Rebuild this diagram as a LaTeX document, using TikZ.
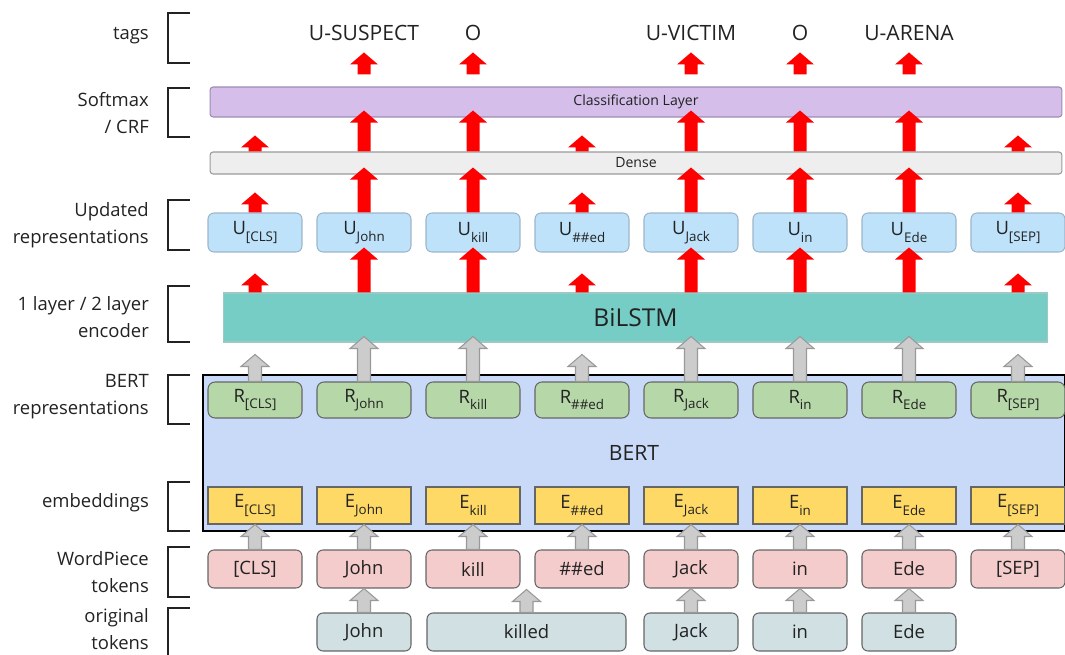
\documentclass[tikz,border=0pt]{standalone}
\usepackage{fontspec}
\setmainfont{Open Sans}
\usetikzlibrary{calc}

\definecolor{txt}{HTML}{222222}
\definecolor{ufill}{HTML}{BDE2FA}
\definecolor{uline}{HTML}{9DB5C9}
\definecolor{clsfill}{HTML}{D5BFEA}
\definecolor{clsline}{HTML}{9C8BB2}
\definecolor{dnsfill}{HTML}{EEEEEE}
\definecolor{dnsline}{HTML}{9A9A9A}
\definecolor{bilfill}{HTML}{76CDC5}
\definecolor{billine}{HTML}{9CC9C4}
\definecolor{bertfill}{HTML}{C9DAF8}
\definecolor{rfill}{HTML}{B6D7A8}
\definecolor{efill}{HTML}{FFD966}
\definecolor{wfill}{HTML}{F4CCCC}
\definecolor{ofill}{HTML}{D0E0E3}
\definecolor{boxline}{HTML}{666666}
\definecolor{arrred}{HTML}{FF0000}
\definecolor{arrgray}{HTML}{CCCCCC}
\definecolor{arrline}{HTML}{999999}

\newcommand\tk[2]{#1\raisebox{-0.65ex}{\fontsize{7.6}{8}\selectfont #2}}

\begin{document}
\begin{tikzpicture}[
  x=0.02cm, y=-0.02cm,
  font=\fontsize{10.5}{15.4}\selectfont, text=txt,
  box/.style={draw, line width=0.6pt, minimum width=1.88cm, inner sep=0pt, align=center},
  ub/.style={box, draw=uline, fill=ufill, rounded corners=0.12cm, minimum height=0.78cm},
  rb/.style={box, draw=boxline, fill=rfill, rounded corners=0.14cm, minimum height=0.72cm},
  eb/.style={box, draw=boxline, fill=efill, minimum height=0.74cm},
  wb/.style={box, draw=boxline, fill=wfill, rounded corners=0.12cm, minimum height=0.76cm},
  ob/.style={box, draw=boxline, fill=ofill, rounded corners=0.12cm, minimum height=0.76cm},
  lyr/.style={draw, line width=0.6pt, inner sep=0pt},
  tag/.style={font=\fontsize{12}{14}\selectfont},
  lab/.style={anchor=east, align=right},
  brk/.style={draw=txt, line width=1.1pt},
  blk/.style={to path={let \p1=(\tikztostart), \p2=(\tikztotarget) in
    (\x1-0.13cm,\y1) -- (\x1-0.13cm,\y2+#1-0.24cm) -- (\x1-0.28cm,\y2+#1-0.24cm) -- (\x1,\y2+#1)
    -- (\x1+0.28cm,\y2+#1-0.24cm) -- (\x1+0.13cm,\y2+#1-0.24cm) -- (\x1+0.13cm,\y1) -- cycle}},
  blk/.default=0cm,
  ra/.style={blk=#1, fill=arrred, draw=none},
  ra/.default=0cm,
  ga/.style={blk=#1, fill=arrgray, draw=arrline, line width=0.6pt},
  ga/.default=0cm
]
\useasboundingbox (0,0) rectangle (1065,655);

% layers
\node[lyr, draw=clsline, fill=clsfill, rounded corners=0.06cm, minimum width=17.04cm, minimum height=0.6cm,
  font=\fontsize{8}{9}\selectfont] (cls) at (636,102) {Classification Layer};
\node[lyr, draw=dnsline, fill=dnsfill, rounded corners=0.06cm, minimum width=17.04cm, minimum height=0.44cm,
  font=\fontsize{8}{9}\selectfont] (dense) at (636,163) {Dense};
\node[lyr, draw=billine, fill=bilfill, minimum width=16.5cm, minimum height=0.98cm,
  font=\fontsize{14}{16}\selectfont] (bil) at (635.5,317.5) {BiLSTM};
\node[lyr, draw=black, line width=1.5pt, fill=bertfill, minimum width=17.24cm, minimum height=3.12cm,
  font=\fontsize{12}{14}\selectfont] (bert) at (634,453) {BERT};

% token columns
\foreach \i/\w in {0/{[CLS]},1/John,2/kill,3/{\#\#ed},4/Jack,5/in,6/Ede,7/{[SEP]}}{
  \node[ub] (u\i) at (255+109*\i,232.5) {\tk{U}{\w}};
  \node[rb] (r\i) at (255+109*\i,400) {\tk{R}{\w}};
  \node[eb] (e\i) at (255+109*\i,505.5) {\tk{E}{\w}};
  \node[wb] (w\i) at (255+109*\i,569) {\w};
}
\node[ob] (o1) at (364,632) {John};
\node[ob, minimum width=3.98cm] (okill) at (526.5,632) {killed};
\node[ob] (o4) at (691,632) {Jack};
\node[ob] (o5) at (800,632) {in};
\node[ob] (o6) at (909,632) {Ede};

% tags
\foreach \i/\t in {1/U-SUSPECT,2/O,4/U-VICTIM,5/O,6/U-ARENA}
  \node[tag] (t\i) at (255+109*\i,33) {\t};

% gray arrows
\foreach \i in {1,4,5,6} \draw[ga] (o\i.north) to (w\i.south);
\draw[ga] (okill.north) to ++(0,-23);
\foreach \i in {0,...,7} \draw[ga] (w\i.north) to (e\i.south);
\foreach \i in {1,2,4,5,6} \draw[ga=0.12cm] (r\i.north) to (r\i.north |- bil.south);
\foreach \i in {0,3,7} \draw[ga] (r\i.north) to ++(0,-27);

% red arrows
\foreach \i in {1,2,4,5,6}{
  \draw[ra=0.1cm] (u\i.south |- bil.north) to (u\i.south);
  \draw[ra=0.14cm] (u\i.north) to (u\i.north |- dense.south);
  \draw[ra=0.14cm] (u\i.north |- dense.north) to (u\i.north |- cls.south);
  \draw[ra] ($(u\i.north |- cls.north)+(0,-12)$) to ++(0,-22);
}
\foreach \i in {0,3,7}{
  \draw[ra] (u\i.south |- bil.north) to ++(0,-19);
  \draw[ra] (u\i.north) to ++(0,-20);
  \draw[ra] (u\i.north |- dense.north) to ++(0,-16);
}

% row labels
\foreach \y/\t in {36/tags, 113/{Softmax\\/ CRF}, 225/{Updated\\representations},
  317/{1 layer / 2 layer\\encoder}, 397/{BERT\\representations}, 503/embeddings,
  572/{WordPiece\\tokens}, 629/{original\\tokens}}
  \node[lab] at (155,\y) {\t};
\foreach \a/\b in {13/63, 88/137, 200/250, 286/342, 375/424, 482/531, 547/597, 608/665}
  \draw[brk] (190,\a) -- (168,\a) -- (168,\b) -- (190,\b);
\end{tikzpicture}
\end{document}
